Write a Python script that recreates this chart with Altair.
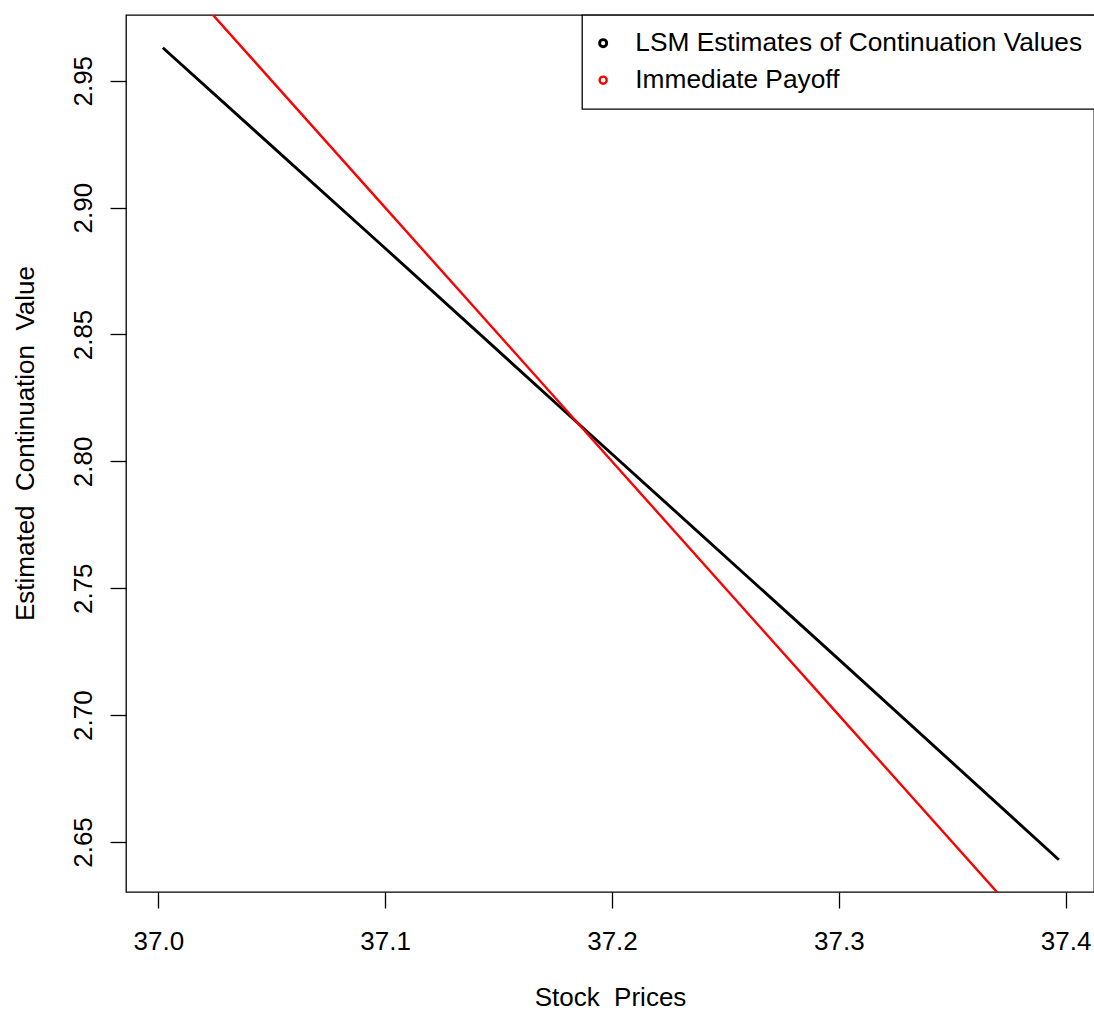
import altair as alt
import pandas as pd

# Stock prices sampled along each series
lsm_price = [37.002, 37.100, 37.190, 37.300, 37.397]
lsm_value = [2.963, 2.884, 2.811, 2.722, 2.643]

payoff_price = [37.002, 37.100, 37.190, 37.300, 37.397]
payoff_value = [2.998, 2.900, 2.810, 2.700, 2.603]

series_names = ["LSM Estimates of Continuation Values", "Immediate Payoff"]
series_colors = ["#000000", "#ff0000"]

x_ticks = [37.0, 37.1, 37.2, 37.3, 37.4]
y_ticks = [2.65, 2.70, 2.75, 2.80, 2.85, 2.90, 2.95]

df = pd.concat([
    pd.DataFrame({"price": lsm_price, "value": lsm_value, "series": series_names[0]}),
    pd.DataFrame({"price": payoff_price, "value": payoff_value, "series": series_names[1]}),
], ignore_index=True)

FONT = "Liberation Sans"
FS = 26
GAP = " \u00a0"  # wide word gap in axis titles

x_enc = alt.X(
    "price:Q",
    scale=alt.Scale(domain=[36.98576, 37.4125], nice=False, zero=False),
    axis=alt.Axis(
        values=x_ticks, format=".1f", title="Stock" + GAP + "Prices", grid=False,
        domain=False, tickSize=16, tickColor="#000", tickWidth=1.3,
        labelFont=FONT, labelFontSize=FS, labelColor="#000", labelPadding=20,
        labelFlush=False,
        titleFont=FONT, titleFontSize=FS, titleFontWeight="normal", titleColor="#000",
        titleX=484, titleY=113, titleAnchor="middle", titleBaseline="alphabetic",
        titleAlign="center",
    ),
)
y_enc = alt.Y(
    "value:Q",
    scale=alt.Scale(domain=[2.6303, 2.9759], nice=False, zero=False),
    axis=alt.Axis(
        values=y_ticks, format=".2f",
        title="Estimated" + GAP + "Continuation" + GAP + "Value", grid=False,
        domain=False, tickSize=16, tickColor="#000", tickWidth=1.3,
        labelFont=FONT, labelFontSize=FS, labelColor="#000", labelPadding=19,
        labelAngle=270, labelAlign="center", labelBaseline="alphabetic",
        labelFlush=False,
        titleFont=FONT, titleFontSize=FS, titleFontWeight="normal", titleColor="#000",
        titleAngle=270, titleX=-93, titleY=428, titleAlign="center",
        titleBaseline="alphabetic",
    ),
)

color_enc = alt.Color(
    "series:N",
    scale=alt.Scale(domain=series_names, range=series_colors),
    sort=series_names,
    legend=alt.Legend(
        title=None, orient="none", legendX=456, legendY=0,
        direction="vertical",
        fillColor="white", strokeColor="#000",
        padding=15, rowPadding=10,
        symbolType="circle", symbolSize=50, symbolStrokeWidth=1.5,
        symbolFillColor="transparent", symbolOffset=-7,
        labelFont=FONT, labelFontSize=26.3, labelColor="#000", labelOffset=19,
        labelLimit=0,
    ),
)

chart = (
    alt.Chart(df)
    .mark_line(clip=True)
    .encode(
        x=x_enc,
        y=y_enc,
        color=color_enc,
        strokeWidth=alt.StrokeWidth(
            "series:N",
            scale=alt.Scale(domain=series_names, range=[2.9, 2.4]),
            legend=None,
        ),
        order="price:Q",
    )
    .properties(
        width=968,
        height=877,
        autosize=alt.AutoSizeParams(type="none"),
        padding={"left": 126, "top": 15, "right": 0, "bottom": 120},
        background="white",
    )
    .configure_view(stroke="#000", strokeWidth=1.3)
    .configure_legend(strokeWidth=1.3, cornerRadius=0)
)

chart.save("out.html", embed_options={"renderer": "svg", "actions": False})
